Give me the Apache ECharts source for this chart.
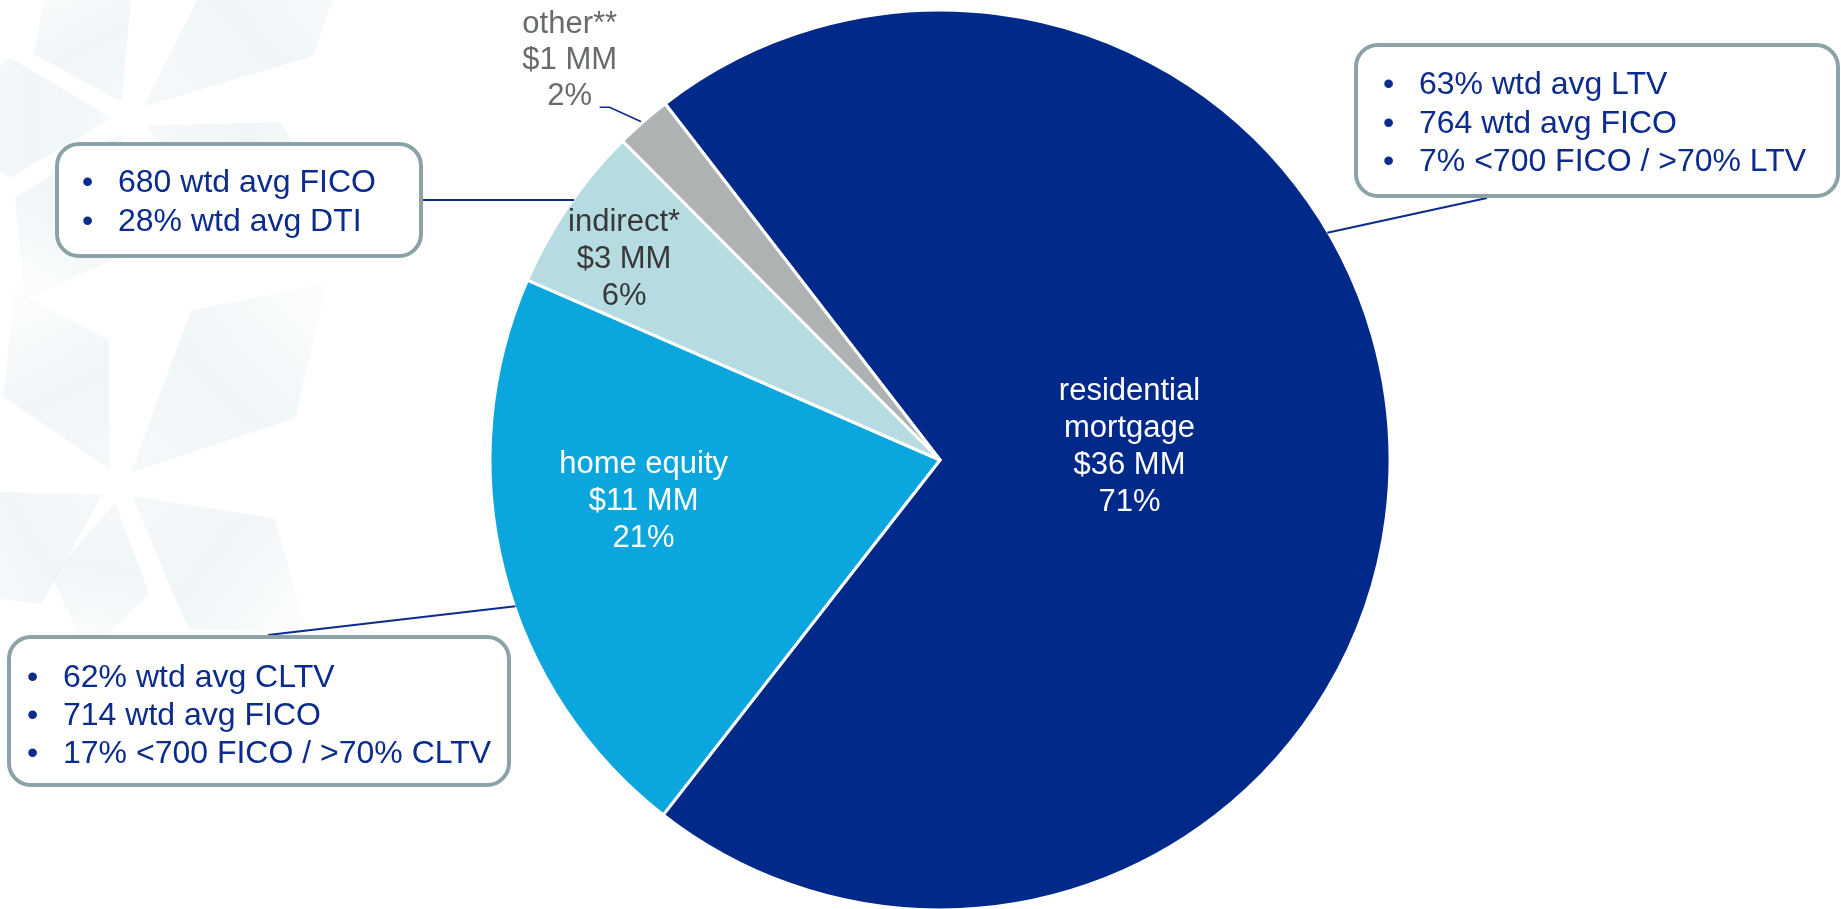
<!DOCTYPE html>
<html>
<head>
<meta charset="utf-8">
<script src="https://cdn.jsdelivr.net/npm/echarts@6/dist/echarts.min.js"></script>
<style>
  html, body { margin: 0; padding: 0; background: #ffffff; }
  #chart { width: 1841px; height: 909px; }
</style>
</head>
<body>
<div id="chart"></div>
<script>
// Consumer loan book composition
const categories = ['residential\nmortgage', 'home equity', 'indirect*', 'other**'];
const balancesMM = [36, 11, 3, 1];
const sharePct = [71, 21, 6, 2];

// Portfolio credit metrics shown in the callouts
const mortgageStats = ['63% wtd avg LTV', '764 wtd avg FICO', '7% <700 FICO / >70% LTV'];
const homeEquityStats = ['62% wtd avg CLTV', '714 wtd avg FICO', '17% <700 FICO / >70% CLTV'];
const indirectStats = ['680 wtd avg FICO', '28% wtd avg DTI'];

// ---- layout / style ----
const FONT = 'Arial, "Liberation Sans", Helvetica, sans-serif';
const CX = 940, CY = 460, R = 450;
const START_COMPASS = 322.35;                 // first slice starts here (degrees clockwise from 12 o'clock)
const sliceColors = ['#00298A', '#0BA6DE', '#B6DCE2', '#AEB2B2'];
const labelColors = ['#FFFFFF', '#FFFFFF', '#383838', '#686B6C'];
const NAVY = '#0B2C8C';
const BOX_STROKE = '#8BA3A7';
const CALLOUT_FONT = '32px ' + FONT;

// label anchor relative to each slice: reach (fraction of radius) and turn (degrees from mid-angle)
const labelPlacement = [
  { reach: 0.422, turn: -4.0 },
  { reach: 0.665, turn: 6.3 },
  { reach: 0.832, turn: -1.9 },
  { reach: 1.21, turn: -1.6 }
];

const total = sharePct.reduce((a, b) => a + b, 0);
function midAngle(i) {
  let before = 0;
  for (let k = 0; k < i; k++) before += sharePct[k];
  return START_COMPASS + 360 * (before + sharePct[i] / 2) / total;
}
function polar(compassDeg, r) {
  const t = compassDeg * Math.PI / 180;
  return [CX + r * Math.sin(t), CY - r * Math.cos(t)];
}

const pieData = categories.map((name, i) => {
  const item = {
    name: name,
    value: sharePct[i],
    itemStyle: { color: sliceColors[i] },
    label: { color: labelColors[i], position: i === 3 ? 'outside' : 'inside' }
  };
  if (i === 3) {
    item.labelLine = { show: true, lineStyle: { color: NAVY, width: 1.6 } };
    item.label.lineHeight = 36;
  }
  return item;
});

// ---- callout boxes with connectors ----
const callouts = [
  { lines: mortgageStats, box: [1356, 45, 482, 151], bulletX: 1383, textX: 1419, firstMid: 85.5, step: 38.5, from: [1487, 198], toAngle: 59.6 },
  { lines: homeEquityStats, box: [9, 637, 500, 148], bulletX: 27, textX: 63, firstMid: 678.5, step: 38, from: [268, 635], toAngle: 251 },
  { lines: indirectStats, box: [57, 144, 364, 112], bulletX: 82, textX: 118, firstMid: 183, step: 39, from: [423, 200], toAngle: 305.4 }
];

const graphics = [];

// faint star decoration in the left margin
const stars = [
  { c: [130, 118], rays: [[-40, 300, 70], [180, 200, 60], [25, 230, 60], [120, 210, 60], [-118, 170, 55]] },
  { c: [118, 485], rays: [[-118, 220, 60], [-44, 290, 75], [38, 240, 70], [150, 210, 65], [100, 170, 50]] }
];
stars.forEach(s => {
  s.rays.forEach(([ang, len, half]) => {
    const t = ang * Math.PI / 180;
    const dx = Math.cos(t), dy = Math.sin(t), nx = -dy, ny = dx;
    const c = s.c;
    const tip = [c[0] + dx * len, c[1] + dy * len];
    const wide = 0.6 * len;
    const p1 = [c[0] + dx * wide + nx * half, c[1] + dy * wide + ny * half];
    const p2 = [c[0] + dx * wide - nx * half, c[1] + dy * wide - ny * half];
    graphics.push({
      type: 'polygon',
      z: -10,
      silent: true,
      shape: { points: [[c[0] + dx * 18, c[1] + dy * 18], p1, tip, p2] },
      style: {
        fill: new echarts.graphic.LinearGradient(c[0], c[1], tip[0], tip[1], [
          { offset: 0, color: 'rgba(226,236,240,0.30)' },
          { offset: 0.5, color: 'rgba(226,236,240,0.50)' },
          { offset: 1, color: 'rgba(226,236,240,0.10)' }
        ], true)
      }
    });
  });
});

callouts.forEach(co => {
  const end = polar(co.toAngle, R - 1);
  graphics.push({
    type: 'line',
    z: 5,
    silent: true,
    shape: { x1: co.from[0], y1: co.from[1], x2: end[0], y2: end[1] },
    style: { stroke: NAVY, lineWidth: 2 }
  });
  graphics.push({
    type: 'rect',
    z: 6,
    silent: true,
    shape: { x: co.box[0], y: co.box[1], width: co.box[2], height: co.box[3], r: 22 },
    style: { fill: '#FFFFFF', stroke: BOX_STROKE, lineWidth: 4 }
  });
  co.lines.forEach((txt, k) => {
    const y = co.firstMid + k * co.step;
    graphics.push({
      type: 'text', z: 7, silent: true, x: co.bulletX, y: y,
      style: { text: '\u2022', fill: NAVY, font: CALLOUT_FONT, verticalAlign: 'middle', align: 'left' }
    });
    graphics.push({
      type: 'text', z: 7, silent: true, x: co.textX, y: y,
      style: { text: txt, fill: NAVY, font: CALLOUT_FONT, verticalAlign: 'middle', align: 'left' }
    });
  });
});

const chart = echarts.init(document.getElementById('chart'), null, { renderer: 'canvas' });
chart.setOption({
  backgroundColor: '#FFFFFF',
  animation: false,
  graphic: { elements: graphics },
  series: [{
    type: 'pie',
    center: [CX, CY],
    radius: [0, R],
    startAngle: 90 + (360 - START_COMPASS),
    clockwise: true,
    avoidLabelOverlap: false,
    silent: true,
    emphasis: { scale: false },
    itemStyle: { borderColor: '#FFFFFF', borderWidth: 3 },
    label: {
      show: true,
      fontFamily: FONT,
      fontSize: 31,
      lineHeight: 37,
      align: 'center',
      formatter: p => p.name + '\n$' + balancesMM[p.dataIndex] + ' MM\n' + sharePct[p.dataIndex] + '%'
    },
    labelLayout: function (p) {
      const i = p.dataIndex;
      const pl = labelPlacement[i];
      const pt = polar(midAngle(i) + pl.turn, R * pl.reach);
      const out = { x: pt[0], y: pt[1], align: 'center', verticalAlign: 'middle' };
      if (i === 3) {
        const start = polar(midAngle(i), R - 2);
        const elbow = [start[0] - 35, start[1] - 16];
        out.labelLinePoints = [start, elbow, [elbow[0] - 10, elbow[1]]];
      }
      return out;
    },
    data: pieData
  }]
});
</script>
</body>
</html>
